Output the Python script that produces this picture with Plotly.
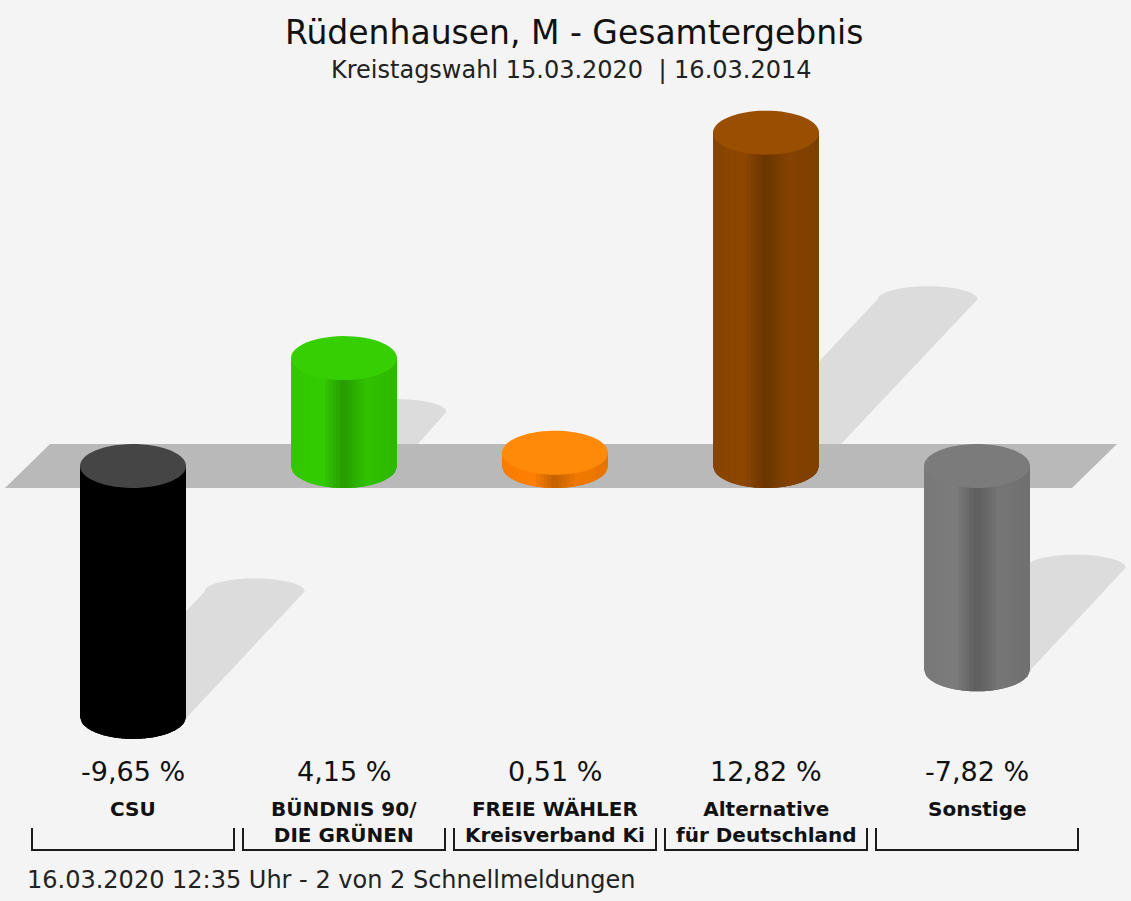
import numpy as np
import plotly.graph_objects as go

# ---------------- data ----------------
parties = ["CSU", "BÜNDNIS 90/<br>DIE GRÜNEN", "FREIE WÄHLER<br>Kreisverband Ki",
           "Alternative<br>für Deutschland", "Sonstige"]
values = [-9.65, 4.15, 0.51, 12.82, -7.82]
title_text = "Rüdenhausen, M - Gesamtergebnis"
subtitle_text = "Kreistagswahl 15.03.2020  | 16.03.2014"
footer_text = "16.03.2020 12:35 Uhr - 2 von 2 Schnellmeldungen"

# ---------------- styles ----------------
side_colors = ["#000000", "#33cc00", "#ff8000", "#8c4600", "#7c7c7c"]
top_colors = ["#454545", "#36cf02", "#ff8a0a", "#9a4e02", "#7b7b7b"]
BG = "#f4f4f4"
BAND = "#b9b9b9"
SHADOW = "#dcdcdc"

# ---------------- layout geometry (pixels) ----------------
W, H = 1131, 901
Y0_PX = 466.0          # pixel row of value 0
PX_PER_PCT = 26.0
X0_PX = 133.0          # pixel column of first category
PX_PER_CAT = 211.0
RX = 53.0 / PX_PER_CAT
RY = 22.0 / PX_PER_PCT
SRX = 50.0 / PX_PER_CAT
SRY = 13.0 / PX_PER_PCT
SHADOW_RATIO = 0.5
SHADOW_SLOPE = 0.97

xr = [-X0_PX / PX_PER_CAT, (W - X0_PX) / PX_PER_CAT]
yr = [-(H - Y0_PX) / PX_PER_PCT, Y0_PX / PX_PER_PCT]


def px_x(p):
    return (p - X0_PX) / PX_PER_CAT


def py_paper(p):
    return 1.0 - p / H


def path_from(xs, ys):
    pts = [f"{x:.5f},{y:.5f}" for x, y in zip(xs, ys)]
    return "M " + " L ".join(pts) + " Z"


def shade(hex_color, f):
    h = hex_color.lstrip("#")
    r, g, b = (int(h[i:i + 2], 16) for i in (0, 2, 4))
    return "#%02x%02x%02x" % tuple(max(0, min(255, int(round(c * f)))) for c in (r, g, b))


shapes = []

# shadows
for i, v in enumerate(values):
    ya = min(0.0, v)
    s = SHADOW_RATIO * abs(v)
    dx = SHADOW_SLOPE * s * PX_PER_PCT / PX_PER_CAT
    a1 = np.linspace(np.pi, 2 * np.pi, 30)
    a2 = np.linspace(0, np.pi, 30)
    xs = list(i + 0.02 + SRX * np.cos(a1)) + list(i + dx + SRX * np.cos(a2))
    ys = list(ya + SRY * np.sin(a1)) + list(ya + s + SRY * np.sin(a2))
    shapes.append(dict(type="path", path=path_from(xs, ys), xref="x", yref="y",
                       fillcolor=SHADOW, line=dict(width=0), layer="above"))

# band (zero plane)
bx = [px_x(5), px_x(1072), px_x(1117), px_x(50)]
by = [-RY, -RY, RY, RY]
shapes.append(dict(type="path", path=path_from(bx, by), xref="x", yref="y",
                   fillcolor=BAND, line=dict(width=0), layer="above"))

# cylinders
prof_t = [0.0, 0.3, 0.5, 0.72, 1.0]
prof_f = [0.97, 1.0, 0.76, 0.95, 0.9]
N = 28
for i, v in enumerate(values):
    lo, hi = min(0.0, v), max(0.0, v)
    # full side underlay to hide strip seams
    us = np.linspace(-1, 1, 40)
    xs = list(i + RX * us) + [i + RX, i - RX]
    ys = list(lo - RY * np.sqrt(np.clip(1 - us ** 2, 0, 1))) + [hi, hi]
    shapes.append(dict(type="path", path=path_from(xs, ys), xref="x", yref="y",
                       fillcolor=shade(side_colors[i], 0.92), line=dict(width=0),
                       layer="above"))
    edges = np.linspace(-1, 1, N + 1)
    for k in range(N):
        u0, u1 = edges[k], min(1.0, edges[k + 1] + 0.02)
        us = np.linspace(u0, u1, 4)
        xs = list(i + RX * us) + [i + RX * u1, i + RX * u0]
        ys = list(lo - RY * np.sqrt(np.clip(1 - us ** 2, 0, 1))) + [hi, hi]
        t = (0.5 * (u0 + u1) + 1) / 2
        f = float(np.interp(t, prof_t, prof_f))
        col = shade(side_colors[i], f)
        shapes.append(dict(type="path", path=path_from(xs, ys), xref="x", yref="y",
                           fillcolor=col, line=dict(width=0), layer="above"))
    a = np.linspace(0, 2 * np.pi, 60)
    shapes.append(dict(type="path",
                       path=path_from(list(i + RX * np.cos(a)), list(hi + RY * np.sin(a))),
                       xref="x", yref="y", fillcolor=top_colors[i], line=dict(width=0),
                       layer="above"))

# brackets under names
BR = 101.0 / PX_PER_CAT
for i in range(len(values)):
    shapes.append(dict(type="path", xref="x", yref="paper",
                       path=f"M {i - BR},{py_paper(828)} L {i - BR},{py_paper(850)} "
                            f"L {i + BR},{py_paper(850)} L {i + BR},{py_paper(828)}",
                       line=dict(color="#1a1a1a", width=2), layer="above"))

annotations = []
FONT = "DejaVu Sans"
annotations.append(dict(text=title_text, x=574 / W, y=py_paper(33), xref="paper", yref="paper",
                        showarrow=False, xanchor="center", yanchor="middle",
                        font=dict(family=FONT, size=33, color="#111111")))
annotations.append(dict(text=subtitle_text, x=571 / W, y=py_paper(70), xref="paper", yref="paper",
                        showarrow=False, xanchor="center", yanchor="middle",
                        font=dict(family=FONT, size=24, color="#222222")))
for i, v in enumerate(values):
    lbl = f"{v:.2f}".replace(".", ",") + " %"
    annotations.append(dict(text=lbl, x=i, y=py_paper(771), xref="x", yref="paper",
                            showarrow=False, xanchor="center", yanchor="middle",
                            font=dict(family=FONT, size=27, color="#111111")))
    annotations.append(dict(text=f"<b>{parties[i]}</b>", x=i, y=py_paper(795), xref="x",
                            yref="paper", showarrow=False, xanchor="center", yanchor="top",
                            font=dict(family=FONT, size=20, color="#111111")))
annotations.append(dict(text=footer_text, x=25 / W, y=py_paper(880), xref="paper", yref="paper",
                        showarrow=False, xanchor="left", yanchor="middle",
                        font=dict(family=FONT, size=24, color="#222222")))

fig = go.Figure()
fig.add_trace(go.Scatter(x=list(range(len(values))), y=values, mode="markers",
                         marker=dict(opacity=0), hoverinfo="skip", showlegend=False))
fig.update_layout(
    width=W, height=H, margin=dict(l=0, r=0, t=0, b=0),
    paper_bgcolor=BG, plot_bgcolor=BG,
    xaxis=dict(range=xr, visible=False, fixedrange=True),
    yaxis=dict(range=yr, visible=False, fixedrange=True),
    shapes=shapes, annotations=annotations, showlegend=False,
)
fig.write_html(
    "out.html",
    config={"displayModeBar": False},
    post_script="document.body.style.margin='0';document.body.style.overflow='hidden';"
                "document.body.style.background='" + BG + "';",
)
